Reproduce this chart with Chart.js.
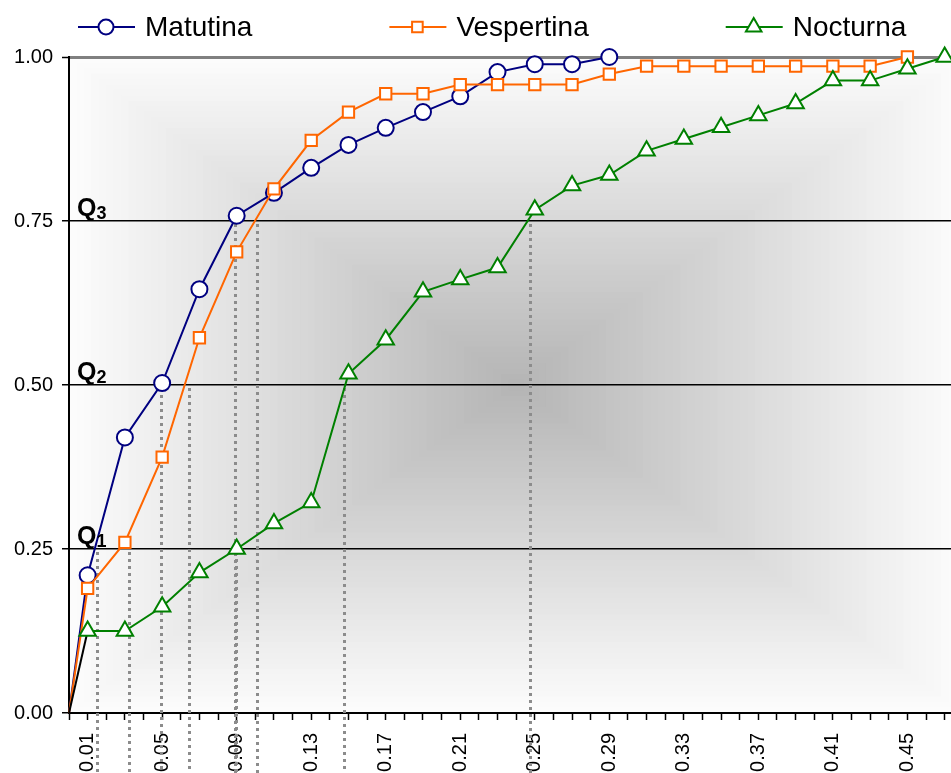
<!DOCTYPE html>
<html>
<head>
<meta charset="utf-8">
<title>Distribución acumulada por turno</title>
<script src="https://cdn.jsdelivr.net/npm/chart.js@4.4.1/dist/chart.umd.min.js"></script>
<style>
  html, body { margin: 0; padding: 0; background: #ffffff; overflow: hidden; }
  #wrap { position: relative; width: 951px; height: 773px; }
  #chart { display: block; }
</style>
</head>
<body>
<div id="wrap"><canvas id="chart"></canvas></div>
<script>
// class marks (x) – first one is the origin the three curves start from
const classMarks = [0, 0.01, 0.03, 0.05, 0.07, 0.09, 0.11, 0.13, 0.15, 0.17, 0.19, 0.21, 0.23,
  0.25, 0.27, 0.29, 0.31, 0.33, 0.35, 0.37, 0.39, 0.41, 0.43, 0.45, 0.47];

const matutina = [0, 0.21, 0.42, 0.503, 0.646, 0.758, 0.793, 0.831, 0.866, 0.892, 0.916,
  0.940, 0.977, 0.989, 0.989, 1.0];
const vespertina = [0, 0.19, 0.26, 0.39, 0.572, 0.703, 0.799, 0.873, 0.916, 0.944, 0.944,
  0.958, 0.958, 0.958, 0.958, 0.974, 0.986, 0.986, 0.986, 0.986, 0.986, 0.986, 0.986, 1.0];
const nocturna = [0, 0.125, 0.125, 0.162, 0.214, 0.25, 0.289, 0.321, 0.517, 0.569, 0.642,
  0.661, 0.679, 0.767, 0.804, 0.82, 0.857, 0.875, 0.893, 0.911, 0.929, 0.964, 0.964, 0.982, 1.0];

// quartile levels and where each curve crosses them (dotted drop lines)
const quartiles = [0.25, 0.5, 0.75];
const quartileNames = ['1', '2', '3'];
const dropLevels = [0.25, 0.25, 0.5, 0.5, 0.25, 0.75, 0.75, 0.5, 0.75];
const dropCuts = [0.0150, 0.0322, 0.0494, 0.0644, 0.0894, 0.0891, 0.1009, 0.1474, 0.2472];

const xTickLabels = ['0.01', '0.05', '0.09', '0.13', '0.17', '0.21', '0.25', '0.29', '0.33',
  '0.37', '0.41', '0.45'];
const yTickLabels = ['0.00', '0.25', '0.50', '0.75', '1.00'];

const FONT = "'Liberation Sans', Arial, sans-serif";
Chart.defaults.font.family = FONT;
Chart.defaults.color = '#000000';

const toPoints = (values) => values.map((y, i) => ({ x: classMarks[i], y }));

const series = [
  { label: 'Matutina', values: matutina, color: '#000080', style: 'circle', radius: 8, order: 2 },
  { label: 'Vespertina', values: vespertina, color: '#FF6600', style: 'rect', radius: 8, order: 1 },
  { label: 'Nocturna', values: nocturna, color: '#008000', style: 'triangle', radius: 9.5, order: 0 }
];

const datasets = series.map((s) => ({
  label: s.label,
  data: toPoints(s.values),
  borderColor: s.color,
  backgroundColor: '#ffffff',
  borderWidth: 2,
  pointStyle: s.style,
  pointRadius: (ctx) => (ctx.dataIndex === 0 ? 0 : s.radius),
  pointBorderWidth: 2,
  pointBorderColor: s.color,
  pointBackgroundColor: '#ffffff',
  tension: 0,
  clip: false,
  order: s.order,
  segment: s.label === 'Nocturna'
    ? { borderColor: (ctx) => (ctx.p0DataIndex === 0 ? '#000000' : undefined) }
    : undefined
}));

// rectangular "from centre" shading of the plot area
const plotShade = {
  id: 'plotShade',
  beforeDraw(chart) {
    const { ctx, chartArea: a, scales: { x, y } } = chart;
    const cx = x.getPixelForValue(0.24);
    const cy = y.getPixelForValue(0.5);
    const hw = x.getPixelForValue(0.48) - cx;
    const hh = a.bottom - cy;
    ctx.save();
    ctx.beginPath();
    ctx.rect(a.left, a.top, a.right - a.left, a.bottom - a.top);
    ctx.clip();
    ctx.fillStyle = '#ffffff';
    ctx.fillRect(a.left, a.top, a.right - a.left, a.bottom - a.top);
    const steps = 60;
    for (let i = steps; i >= 1; i--) {
      const t = i / steps;
      const v = Math.round(252 - 72 * (1 - t));
      ctx.fillStyle = `rgb(${v},${v},${v})`;
      ctx.fillRect(cx - hw * t, cy - hh * t, 2 * hw * t, 2 * hh * t);
    }
    ctx.restore();
  }
};

const dropLines = {
  id: 'dropLines',
  beforeDatasetsDraw(chart) {
    const { ctx, scales: { x, y } } = chart;
    ctx.save();
    ctx.strokeStyle = '#8c8c8c';
    ctx.lineWidth = 3;
    ctx.lineCap = 'butt';
    ctx.setLineDash([3, 4]);
    dropCuts.forEach((cut, i) => {
      const px = Math.round(x.getPixelForValue(cut)) + 0.5;
      ctx.beginPath();
      ctx.moveTo(px, y.getPixelForValue(dropLevels[i]) + 3);
      ctx.lineTo(px, chart.height);
      ctx.stroke();
    });
    ctx.restore();
  }
};

const quartileTags = {
  id: 'quartileTags',
  afterDatasetsDraw(chart) {
    const { ctx, chartArea: a, scales: { y } } = chart;
    ctx.save();
    ctx.fillStyle = '#000000';
    ctx.textBaseline = 'alphabetic';
    ctx.textAlign = 'left';
    quartiles.forEach((q, i) => {
      const py = y.getPixelForValue(q);
      const px = a.left + 8;
      ctx.font = `bold 25px ${FONT}`;
      ctx.fillText('Q', px, py - 5);
      const w = ctx.measureText('Q').width;
      ctx.font = `bold 18px ${FONT}`;
      ctx.fillText(quartileNames[i], px + w, py - 2);
    });
    ctx.restore();
  }
};

// legend: line + marker + text, like the spreadsheet original
const lineLegend = {
  id: 'lineLegend',
  afterDraw(chart) {
    const { ctx } = chart;
    const y0 = 27;
    let x0 = 78;
    ctx.save();
    ctx.font = `28px ${FONT}`;
    ctx.textBaseline = 'middle';
    ctx.textAlign = 'left';
    series.forEach((s) => {
      ctx.strokeStyle = s.color;
      ctx.lineWidth = 2;
      ctx.beginPath();
      ctx.moveTo(x0, y0);
      ctx.lineTo(x0 + 57, y0);
      ctx.stroke();
      ctx.fillStyle = '#ffffff';
      ctx.lineWidth = 2;
      Chart.helpers.drawPoint(ctx, {
        pointStyle: s.style,
        radius: s.style === 'triangle' ? 9 : 7.5,
        rotation: 0,
        borderWidth: 2
      }, x0 + 28, y0);
      ctx.fillStyle = '#000000';
      ctx.fillText(s.label, x0 + 67, y0 + 1);
      x0 += 67 + ctx.measureText(s.label).width + 137;
    });
    ctx.restore();
  }
};

new Chart(document.getElementById('chart'), {
  type: 'line',
  data: { datasets },
  options: {
    responsive: true,
    maintainAspectRatio: false,
    animation: false,
    events: [],
    layout: { autoPadding: false, padding: { top: 57, right: 0, bottom: 0, left: 0 } },
    plugins: {
      legend: { display: false },
      tooltip: { enabled: false }
    },
    scales: {
      x: {
        type: 'linear',
        min: 0,
        max: 0.4734,
        afterBuildTicks(scale) {
          const ticks = [];
          for (let i = 0; i <= 47; i++) ticks.push({ value: i / 100 });
          scale.ticks = ticks;
        },
        afterFit(scale) {
          scale.height = 60;
          scale.paddingLeft = 0;
          scale.paddingRight = 0;
        },
        ticks: {
          autoSkip: false,
          minRotation: 90,
          maxRotation: 90,
          padding: 13,
          color: '#000000',
          font: { size: 20 },
          // unlabeled ticks get an empty array: tick mark kept, no label space reserved
          callback: (value) => {
            const s = Number(value).toFixed(2);
            return xTickLabels.includes(s) ? s : [];
          }
        },
        grid: {
          drawOnChartArea: false,
          drawTicks: true,
          tickLength: 7,
          tickColor: '#000000',
          tickWidth: 1.5
        },
        border: { display: true, color: '#000000', width: 2 }
      },
      y: {
        min: 0,
        max: 1,
        afterBuildTicks(scale) {
          scale.ticks = yTickLabels.map((t) => ({ value: Number(t) }));
        },
        afterFit(scale) {
          scale.width = 69;
        },
        ticks: {
          padding: 9,
          color: '#000000',
          font: { size: 20 },
          callback: (value) => Number(value).toFixed(2)
        },
        grid: {
          color: (ctx) => (ctx.tick && ctx.tick.value === 1 ? '#808080' : '#000000'),
          lineWidth: (ctx) => (ctx.tick && ctx.tick.value === 1 ? 3 : 1.5),
          tickLength: 7,
          tickColor: '#000000',
          tickWidth: 1.5
        },
        border: { display: true, color: '#000000', width: 2 }
      }
    }
  },
  plugins: [plotShade, dropLines, quartileTags, lineLegend]
});
</script>
</body>
</html>
